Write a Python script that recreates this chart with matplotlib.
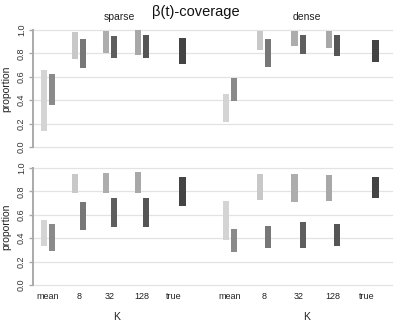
import matplotlib.pyplot as plt

plt.rcParams['font.family'] = ['Liberation Sans', 'DejaVu Sans']

categories = ['mean', '8', '32', '128', 'true']
groups = ['sparse', 'dense']

# (low, high) for light and dark bar per category, 'true' has only a dark bar
top_light = {
    'sparse': [(0.14, 0.66), (0.755, 0.98), (0.80, 0.99), (0.79, 1.00), None],
    'dense': [(0.21, 0.45), (0.83, 0.99), (0.86, 0.99), (0.85, 0.99), None],
}
top_dark = {
    'sparse': [(0.36, 0.62), (0.675, 0.92), (0.76, 0.95), (0.76, 0.96), (0.71, 0.93)],
    'dense': [(0.39, 0.59), (0.68, 0.925), (0.795, 0.96), (0.78, 0.96), (0.73, 0.915)],
}
bottom_light = {
    'sparse': [(0.333, 0.553), (0.784, 0.946), (0.786, 0.957), (0.79, 0.963), None],
    'dense': [(0.385, 0.718), (0.724, 0.949), (0.712, 0.946), (0.718, 0.94), None],
}
bottom_dark = {
    'sparse': [(0.293, 0.524), (0.467, 0.707), (0.50, 0.746), (0.496, 0.746), (0.678, 0.923)],
    'dense': [(0.285, 0.479), (0.319, 0.507), (0.319, 0.538), (0.333, 0.521), (0.744, 0.926)],
}

light_colors = ['#d4d4d4', '#c8c8c8', '#adadad', '#a8a8a8']
dark_colors = ['#8a8a8a', '#777777', '#5e5e5e', '#555555', '#444444']

centers = {
    'sparse': [1.0, 1.97, 2.94, 3.94, 4.94],
    'dense': [6.69, 7.75, 8.83, 9.91, 10.97],
}

fig = plt.figure(figsize=(3.99, 3.24), dpi=100)
W, H = 399, 324


def make_ax(top_px, bottom_px):
    ax = fig.add_axes([33 / W, 1 - bottom_px / H, (392 - 33) / W, (bottom_px - top_px) / H])
    ax.set_xlim(0.53, 11.75)
    ax.set_ylim(0, 1)
    for s in ['top', 'right', 'bottom']:
        ax.spines[s].set_visible(False)
    ax.spines['left'].set_color('#aaaaaa')
    ax.spines['left'].set_linewidth(1.4)
    ax.set_yticks([0, 0.2, 0.4, 0.6, 0.8, 1.0])
    ax.set_yticklabels(['0.0', '0.2', '0.4', '0.6', '0.8', '1.0'], rotation=90, va='center')
    ax.tick_params(axis='y', colors='#aaaaaa', labelcolor='#333333', labelsize=6.5,
                   length=3, width=1, pad=2)
    for v in [0, 0.2, 0.4, 0.6, 0.8, 1.0]:
        ax.axhline(v, color='#e3e3e3', lw=0.9, zorder=0, clip_on=False)
    ax.set_ylabel('proportion', fontsize=7.5, color='#222222', labelpad=4)
    return ax


def draw_bars(ax, light, dark):
    for g in groups:
        for i, c in enumerate(categories):
            x0 = centers[g][i]
            if light[g][i] is not None:
                lo, hi = light[g][i]
                ax.bar(x0 - 0.13, hi - lo, bottom=lo, width=0.2,
                       color=light_colors[i], clip_on=False, zorder=2)
            lo, hi = dark[g][i]
            off = 0.26 if c == 'true' else 0.13
            ax.bar(x0 + off, hi - lo, bottom=lo, width=0.2,
                   color=dark_colors[i], clip_on=False, zorder=2)


ax1 = make_ax(30, 147)
draw_bars(ax1, top_light, top_dark)
ax1.set_xticks([])

ax2 = make_ax(168, 285)
draw_bars(ax2, bottom_light, bottom_dark)
ax2.set_xticks(centers['sparse'] + centers['dense'])
ax2.set_xticklabels(categories + categories, fontsize=6.5, color='#222222')
ax2.tick_params(axis='x', length=0, pad=5)

fig.text(196 / W, 1 - 12 / H, 'β(t)-coverage', ha='center', va='center',
         fontsize=10.5, color='#111111')
fig.text(119 / W, 1 - 17 / H, 'sparse', ha='center', va='center', fontsize=7.5, color='#222222')
fig.text(307 / W, 1 - 17 / H, 'dense', ha='center', va='center', fontsize=7.5, color='#222222')
fig.text(117 / W, 1 - 317 / H, 'K', ha='center', va='center', fontsize=7.5, color='#222222')
fig.text(307 / W, 1 - 317 / H, 'K', ha='center', va='center', fontsize=7.5, color='#222222')

fig.savefig('out.png', dpi=100)
